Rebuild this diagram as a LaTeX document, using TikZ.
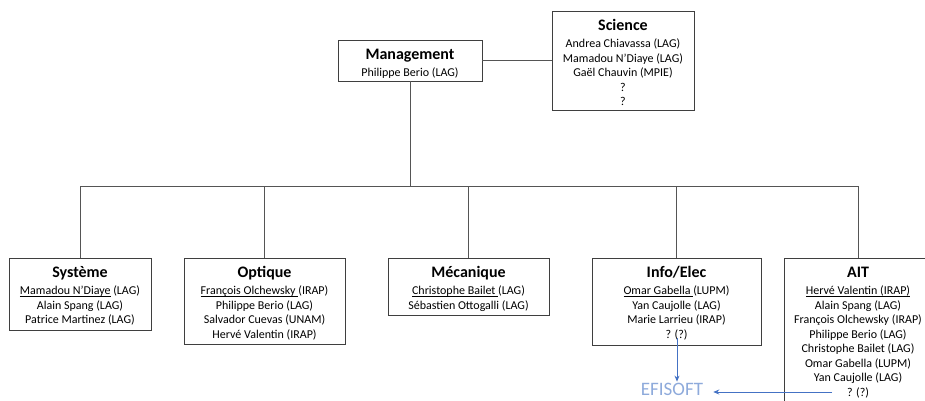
\documentclass[tikz,border=0pt]{standalone}
\usepackage{fontspec}
\setmainfont{Carlito}
\usetikzlibrary{arrows.meta}
\definecolor{boxline}{HTML}{3F3F3F}
\definecolor{treeline}{HTML}{555555}
\definecolor{arrowblue}{HTML}{4472C4}
\definecolor{efiblue}{HTML}{8EAADB}
\newcommand{\ttl}[1]{{\fontsize{16}{17}\selectfont\bfseries\rule{0pt}{13pt}#1}\\[2.5pt]}
\newcommand{\ulx}[1]{\setbox0\hbox{#1}\rlap{\rule[-1.7pt]{\wd0}{0.6pt}}\box0\relax}
\tikzset{
  box/.style={draw=boxline, line width=0.9pt, fill=white, inner sep=0pt},
  lbl/.style={anchor=north, yshift=-7pt, inner sep=0pt, align=center,
    font=\fontsize{12}{14.5}\selectfont},
  txt/.style={label={[lbl]north:{#1}}},
  tree/.style={draw=treeline, line width=0.7pt},
  bluearrow/.style={draw=arrowblue, line width=0.8pt, -{Stealth[length=6pt,width=5pt]}}
}
\begin{document}
\begin{tikzpicture}[x=1pt,y=-1pt]
\useasboundingbox (0,0) rectangle (925,401);
\clip (0,0) rectangle (925,401);
\node[box, minimum width=144pt, minimum height=41pt,
  txt={\ttl{Management} Philippe Berio (LAG)}] (mgmt) at (410,60.5) {};
\node[box, minimum width=142pt, minimum height=99pt,
  txt={\ttl{Science} Andrea Chiavassa (LAG)\\ Mamadou N’Diaye (LAG)\\ Gaël Chauvin (MPIE)\\ ?\\ ?}] (sci) at (623,60.5) {};
\node[box, minimum width=142pt, minimum height=72pt,
  txt={\ttl{Système} \ulx{Mamadou N’Diaye} (LAG)\\ Alain Spang (LAG)\\ Patrice Martinez (LAG)}] (sys) at (80,294) {};
\node[box, minimum width=161pt, minimum height=86pt,
  txt={\ttl{Optique} \ulx{François Olchewsky\ }(IRAP)\\ Philippe Berio (LAG)\\ Salvador Cuevas (UNAM)\\ Hervé Valentin (IRAP)}] (opt) at (264.5,301) {};
\node[box, minimum width=161pt, minimum height=57pt,
  txt={\ttl{Mécanique} \ulx{Christophe Bailet\ }(LAG)\\ Sébastien Ottogalli (LAG)}] (mec) at (468.5,286.5) {};
\node[box, minimum width=169pt, minimum height=87pt,
  txt={\ttl{Info/Elec} \ulx{Omar Gabella\ }(LUPM)\\ Yan Caujolle (LAG)\\ Marie Larrieu (IRAP)\\ ? (?)}] (info) at (676.5,301.5) {};
\node[box, minimum width=148pt, minimum height=150pt,
  txt={\ttl{AIT} \ulx{Hervé Valentin (IRAP)}\\ Alain Spang (LAG)\\ François Olchewsky (IRAP)\\ Philippe Berio (LAG)\\ Christophe Bailet (LAG)\\ Omar Gabella (LUPM)\\ Yan Caujolle (LAG)\\ ? (?)}] (ait) at (858,333) {};
\node[text=efiblue, font=\fontsize{19}{21}\selectfont, inner sep=1pt] (efi) at (672,389) {EFISOFT};

\coordinate (bus) at (410,186);
\draw[tree] (mgmt.east) -- (sci.west |- mgmt.east);
\draw[tree] (mgmt.south) -- (bus);
\draw[tree] (bus) -| (sys.north);
\draw[tree] (bus) -| (opt.north);
\draw[tree] (bus) -| (mec.north);
\draw[tree] (bus) -| (info.north);
\draw[tree] (bus) -| (ait.north);

\coordinate (a1) at (677,338);
\coordinate (a2) at (832,392);
\draw[bluearrow] (a1) -- (a1 |- efi.north);
\draw[bluearrow] (a2) -- ([xshift=9pt]efi.east |- a2);
\end{tikzpicture}
\end{document}
